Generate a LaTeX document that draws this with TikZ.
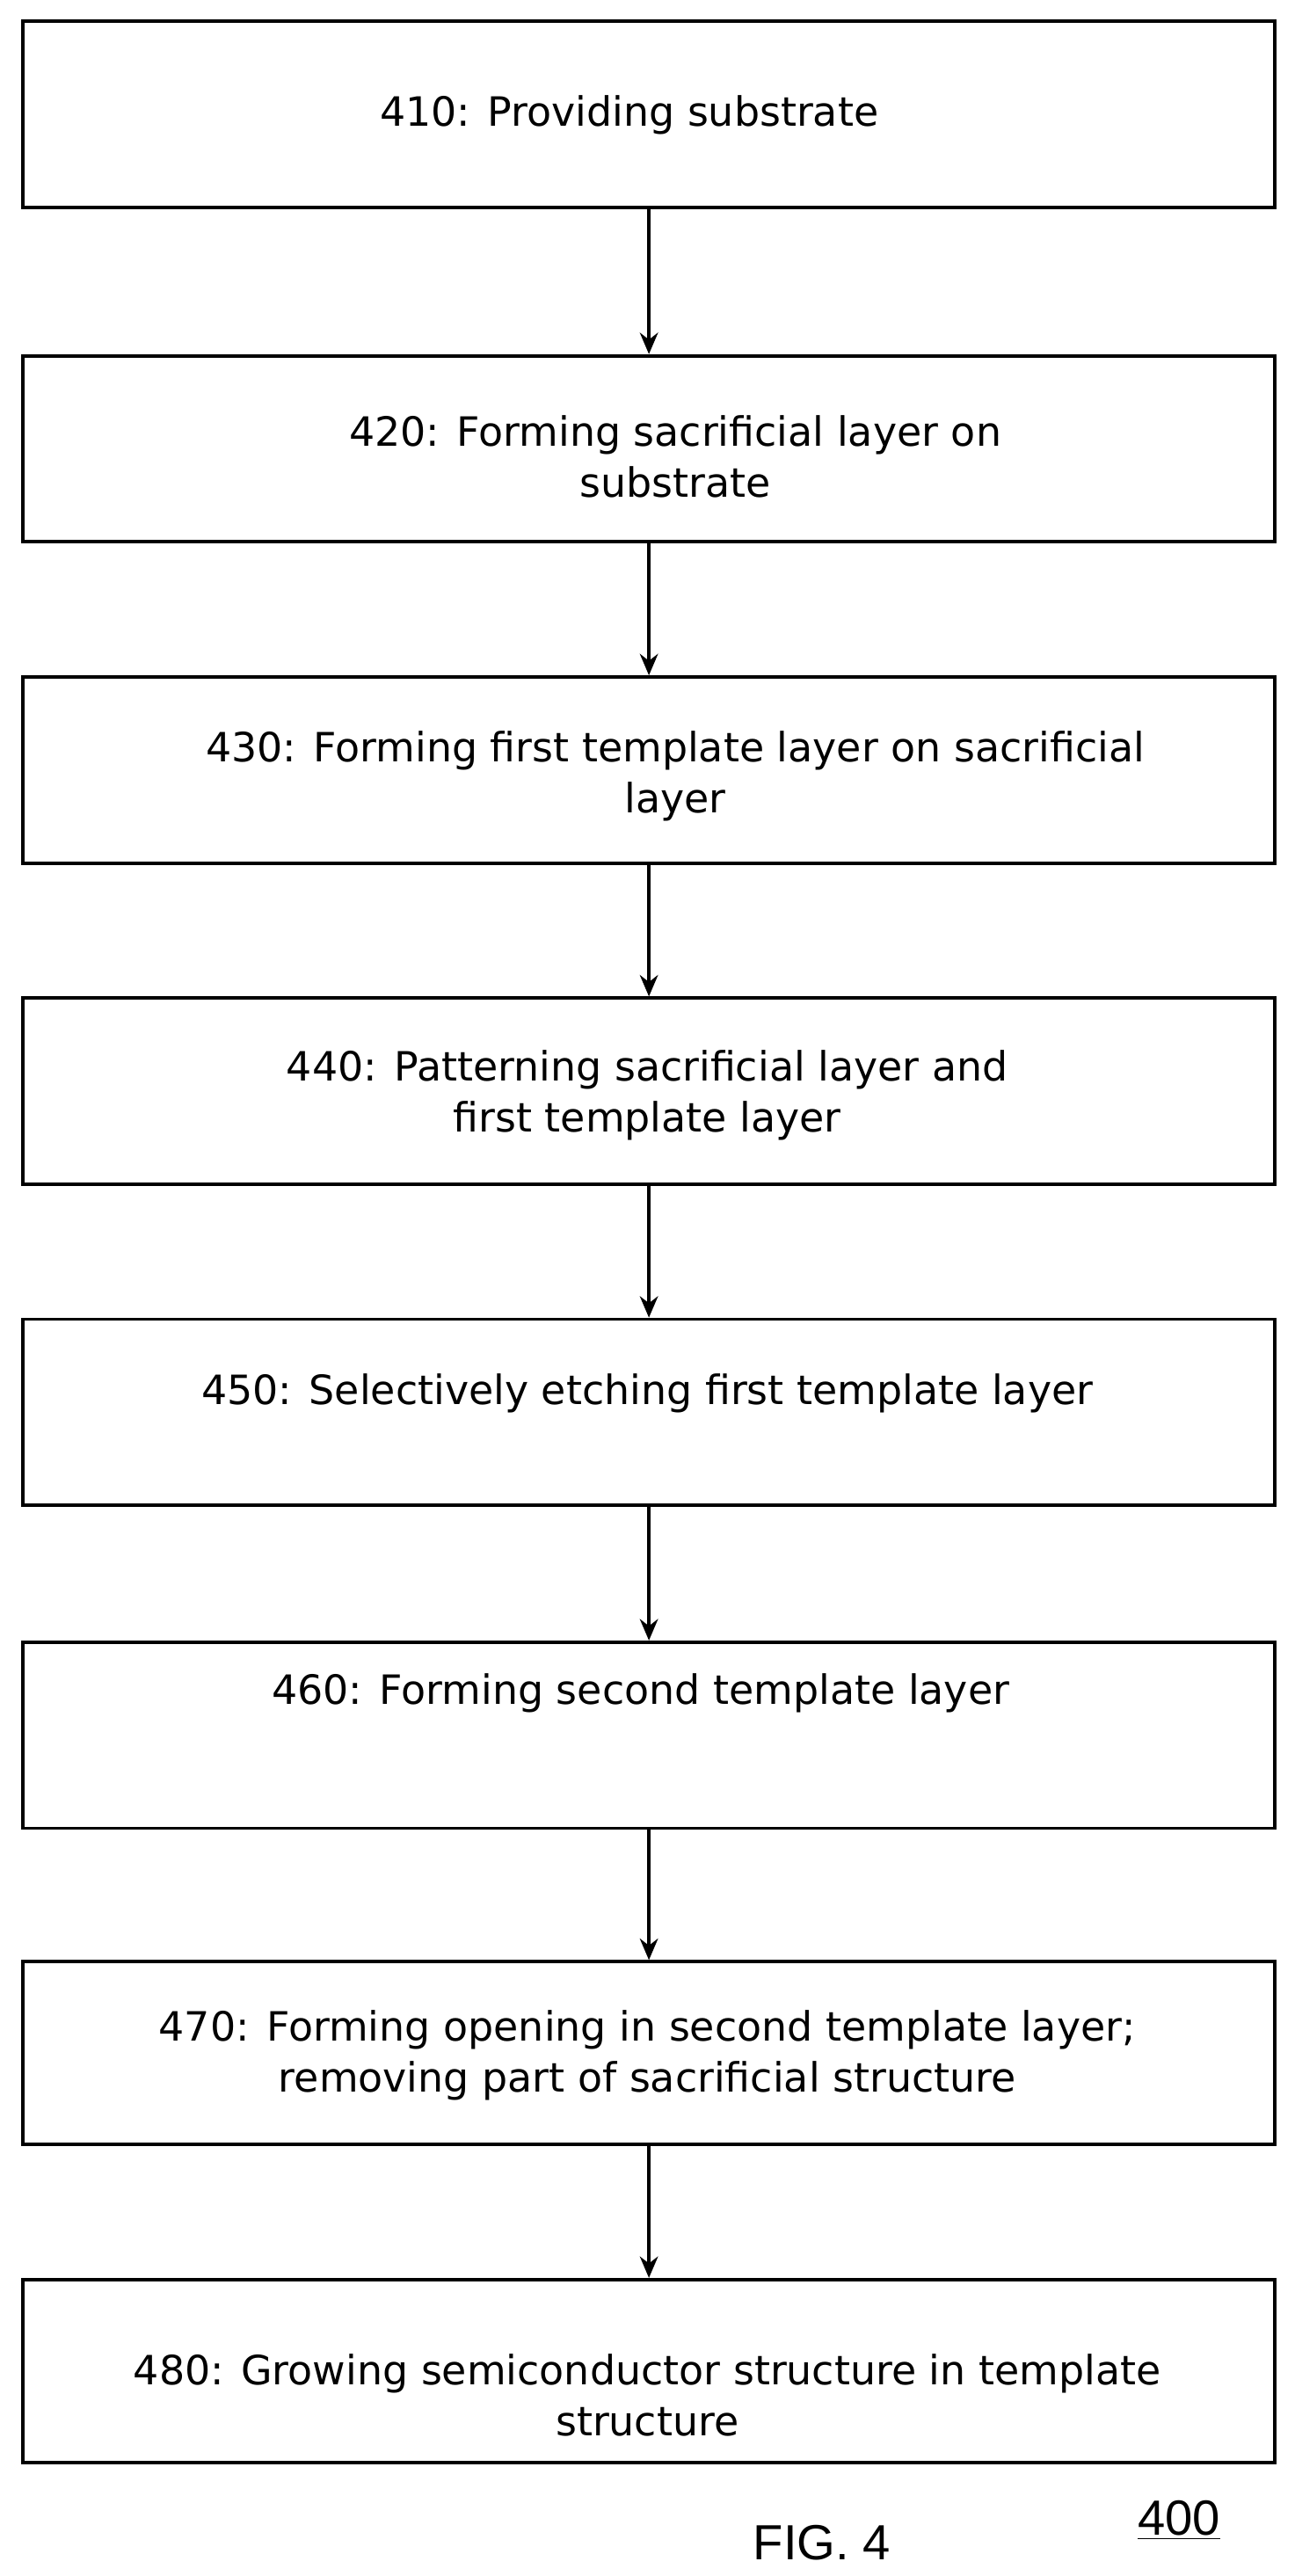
\documentclass[tikz,border=0pt]{standalone}
\usepackage{fontspec}
\setmainfont{DejaVu Sans}
\newfontfamily\arialf{Liberation Sans}
\usetikzlibrary{arrows.meta}
\begin{document}
\begin{tikzpicture}[x=1pt,y=-1pt,
  box/.style={draw,line width=2pt,minimum width=760pt,minimum height=113pt,anchor=north west,inner sep=0pt},
  txt/.style={font=\fontsize{24.5}{31}\selectfont,align=center},
  arr/.style={-{Stealth[length=13pt,width=11pt]},line width=2pt}]
\useasboundingbox (0,0) rectangle (786,1564);
\node[box] (b1) at (13,12) {};
\node[box] (b2) at (13,215) {};
\node[box] (b3) at (13,410) {};
\node[box] (b4) at (13,605) {};
\node[box] (b5) at (13,800) {};
\node[box] (b6) at (13,996) {};
\node[box,minimum height=111pt] (b7) at (13,1190) {};
\node[box,minimum height=111pt] (b8) at (13,1383) {};
\node[txt] (t1) at (382,70) {410: Providing substrate};
\node[txt] (t2) at (410,277) {420: Forming sacrificial layer on\\substrate};
\node[txt] (t3) at (410,471) {430: Forming first template layer on sacrificial\\layer};
\node[txt] (t4) at (393,665) {440: Patterning sacrificial layer and\\first template layer};
\node[txt] (t5) at (393,846) {450: Selectively etching first template layer};
\node[txt] (t6) at (389,1028) {460: Forming second template layer};
\node[txt] (t7) at (393,1248) {470: Forming opening in second template layer;\\removing part of sacrificial structure};
\node[txt] (t8) at (393,1454) {480: Growing semiconductor structure in template\\structure};
\draw[arr] (b1.south -| 394,0) -- (b2.north -| 394,0);
\draw[arr] (b2.south -| 394,0) -- (b3.north -| 394,0);
\draw[arr] (b3.south -| 394,0) -- (b4.north -| 394,0);
\draw[arr] (b4.south -| 394,0) -- (b5.north -| 394,0);
\draw[arr] (b5.south -| 394,0) -- (b6.north -| 394,0);
\draw[arr] (b6.south -| 394,0) -- (b7.north -| 394,0);
\draw[arr] (b7.south -| 394,0) -- (b8.north -| 394,0);
\node[font=\arialf\fontsize{30}{32}\selectfont] (fig) at (499,1544) {FIG. 4};
\node[font=\arialf\fontsize{30}{32}\selectfont] (num) at (716,1530) {\underline{400}};
\end{tikzpicture}
\end{document}
